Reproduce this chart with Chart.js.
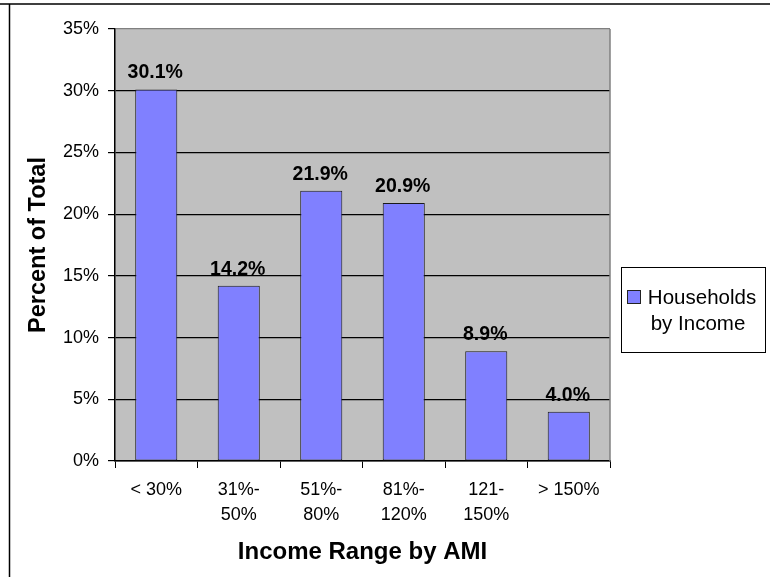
<!DOCTYPE html>
<html>
<head>
<meta charset="utf-8">
<script src="https://cdn.jsdelivr.net/npm/chart.js@4/dist/chart.umd.min.js"></script>
<style>
  html, body { margin: 0; padding: 0; background: #fff; }
  #wrap { position: relative; width: 770px; height: 577px; }
  canvas { display: block; }
</style>
</head>
<body>
<div id="wrap"><canvas id="chart" width="770" height="577"></canvas></div>
<script>
// Income bands (share of households in each AMI range)
const categories = [['< 30%'], ['31%-', '50%'], ['51%-', '80%'], ['81%-', '120%'], ['121-', '150%'], ['> 150%']];
const householdShares = [30.1, 14.2, 21.9, 20.9, 8.9, 4.0];
const seriesName = 'Households by Income';
const legendLines = ['Households', 'by Income'];
const yTicks = { min: 0, max: 35, step: 5 };

const FONT = '"Liberation Sans", Arial, Helvetica, sans-serif';
const BAR_FILL = '#8080FF';
const PLOT_BG = '#C0C0C0';

// Outer frame, plot background and plot border
const framePlugin = {
  id: 'frame',
  beforeDraw(chart) {
    const { ctx, chartArea: a } = chart;
    ctx.save();
    ctx.fillStyle = '#fff';
    ctx.fillRect(0, 0, chart.width, chart.height);
    ctx.fillStyle = PLOT_BG;
    ctx.fillRect(a.left, a.top, a.right - a.left, a.bottom - a.top);
    ctx.strokeStyle = '#000';
    ctx.lineWidth = 1.5;
    ctx.beginPath();
    ctx.moveTo(0, 4);
    ctx.lineTo(chart.width, 4);
    ctx.moveTo(9.5, 4);
    ctx.lineTo(9.5, chart.height);
    ctx.stroke();
    ctx.restore();
  },
  afterDraw(chart) {
    const { ctx, chartArea: a } = chart;
    ctx.save();
    ctx.strokeStyle = '#808080';
    ctx.lineWidth = 1.5;
    ctx.beginPath();
    ctx.moveTo(a.right, a.top);
    ctx.lineTo(a.right, a.bottom);
    ctx.stroke();
    ctx.restore();
  }
};

// Value labels above each bar
const valueLabels = {
  id: 'valueLabels',
  afterDatasetsDraw(chart) {
    const { ctx } = chart;
    const meta = chart.getDatasetMeta(0);
    ctx.save();
    ctx.fillStyle = '#000';
    ctx.font = 'bold 19.5px ' + FONT;
    ctx.textAlign = 'center';
    ctx.textBaseline = 'alphabetic';
    meta.data.forEach((bar, i) => {
      ctx.fillText(householdShares[i].toFixed(1) + '%', bar.x - 1, bar.y - 11);
    });
    ctx.restore();
  }
};

// Boxed legend to the right of the plot
const boxLegend = {
  id: 'boxLegend',
  afterDraw(chart) {
    const { ctx } = chart;
    const x = 621, y = 267, w = 144, h = 85;
    ctx.save();
    ctx.fillStyle = '#fff';
    ctx.fillRect(x, y, w, h);
    ctx.strokeStyle = '#000';
    ctx.lineWidth = 1;
    ctx.strokeRect(x + 0.5, y + 0.5, w, h);
    ctx.fillStyle = BAR_FILL;
    ctx.fillRect(627, 290, 13, 13);
    ctx.strokeStyle = '#222';
    ctx.strokeRect(627.5, 290.5, 13, 13);
    ctx.fillStyle = '#000';
    ctx.font = '20.5px ' + FONT;
    ctx.textAlign = 'center';
    ctx.textBaseline = 'alphabetic';
    ctx.fillText(legendLines[0], 702, 304);
    ctx.fillText(legendLines[1], 698, 330);
    ctx.restore();
  }
};

new Chart(document.getElementById('chart'), {
  type: 'bar',
  data: {
    labels: categories,
    datasets: [{
      label: seriesName,
      data: householdShares,
      backgroundColor: BAR_FILL,
      borderColor: '#1a1a1a',
      borderWidth: 1,
      borderSkipped: false,
      barPercentage: 1,
      categoryPercentage: 0.51
    }]
  },
  options: {
    responsive: false,
    animation: false,
    devicePixelRatio: 1,
    layout: { padding: { top: 29, right: 160, bottom: 0, left: 0 } },
    plugins: {
      legend: { display: false },
      tooltip: { enabled: false }
    },
    scales: {
      x: {
        grid: {
          offset: true,
          drawOnChartArea: false,
          drawTicks: true,
          tickLength: 7,
          tickColor: '#000',
          color: '#000'
        },
        border: { color: '#000', width: 1.5 },
        ticks: {
          color: '#000',
          font: { family: FONT, size: 18, lineHeight: 1.42 },
          padding: 9,
          maxRotation: 0,
          autoSkip: false
        },
        title: {
          display: true,
          text: 'Income Range by AMI',
          color: '#000',
          font: { family: FONT, size: 24, weight: 'bold', lineHeight: 1.2 },
          padding: { top: 0, bottom: 10.5 }
        },
        afterFit(scale) { scale.height = 116; }
      },
      y: {
        min: yTicks.min,
        max: yTicks.max,
        grid: {
          drawTicks: true,
          tickLength: 7,
          tickColor: '#000',
          color: (c) => (c.tick && c.tick.value === yTicks.max ? '#808080' : '#000'),
          lineWidth: 1.2
        },
        border: { color: '#000', width: 1.5 },
        ticks: {
          stepSize: yTicks.step,
          color: '#000',
          padding: 9,
          font: { family: FONT, size: 18 },
          callback: (v) => v + '%'
        },
        title: {
          display: true,
          text: 'Percent of Total',
          color: '#000',
          font: { family: FONT, size: 23.5, weight: 'bold', lineHeight: 1.2 },
          padding: { top: 24.5, bottom: 0 }
        },
        afterFit(scale) { scale.width = 115; }
      }
    }
  },
  plugins: [framePlugin, valueLabels, boxLegend]
});
</script>
</body>
</html>
